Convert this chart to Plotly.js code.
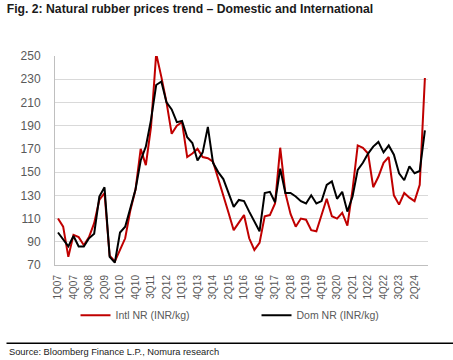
<!DOCTYPE html>
<html>
<head>
<meta charset="utf-8">
<script src="https://cdn.plot.ly/plotly-3.0.1.min.js"></script>
<style>html,body{margin:0;padding:0;background:#fff;}#chart{width:453px;height:360px;}</style>
</head>
<body>
<div id="chart"></div>
<script>
// Quarterly categories 1Q07 .. 4Q24
const quarters = [];
for (let y = 7; y <= 24; y++) {
  for (let q = 1; q <= 4; q++) {
    quarters.push(q + 'Q' + (y < 10 ? '0' + y : '' + y));
  }
}
// Tick labels shown every third quarter
const tickLabels = ['1Q07','4Q07','3Q08','2Q09','1Q10','4Q10','3Q11','2Q12','1Q13','4Q13','3Q14','2Q15','1Q16','4Q16','3Q17','2Q18','1Q19','4Q19','3Q20','2Q21','1Q22','4Q22','3Q23','2Q24'];

const intlNR = [110,103,77,96,94,87,94,106,126,132,78,73,83,93,117,
  135,170,156,189,252,232,210,183,190,193,163,166,170,163,162,159,145,129,115,100,107,113,93,83,89,112,113,123,171,
  132,114,103,110,109,100,99,113,127,112,110,115,104,
  135,173,171,166,137,146,158,163,130,122,132,128,125,139,231];

const domNR = [98,92,86,95,86,86,93,97,129,137,77,72,98,103,118,
  135,160,172,195,225,228,210,204,193,194,180,175,160,167,189,158,150,144,132,120,126,125,116,107,99,132,133,124,153,
  132,132,129,125,123,130,123,125,139,142,127,133,116,
  129,152,158,166,172,176,167,173,165,149,143,155,149,151,186];

const traces = [
  {x: quarters, y: intlNR, type: 'scatter', mode: 'lines', name: 'Intl NR (INR/kg)',
   line: {color: '#c00000', width: 2}},
  {x: quarters, y: domNR, type: 'scatter', mode: 'lines', name: 'Dom NR (INR/kg)',
   line: {color: '#000000', width: 2}}
];

const layout = {
  width: 453, height: 360,
  margin: {l: 55, r: 25, t: 56, b: 94.5},
  paper_bgcolor: '#fff', plot_bgcolor: '#fff',
  font: {family: 'Liberation Sans, Arial, sans-serif', color: '#595959'},
  title: {text: '<b>Fig. 2: Natural rubber prices trend – Domestic and International</b>',
          xref: 'container', yref: 'container', x: 0.015, xanchor: 'left', y: 0.975, yanchor: 'middle',
          font: {family: 'Liberation Sans, Arial, sans-serif', size: 12.2, color: '#1a1a1a'}},
  showlegend: true,
  legend: {orientation: 'h', x: 0.055, xanchor: 'left', y: -0.24, yanchor: 'middle',
           font: {size: 10.5, color: '#595959'}, itemwidth: 30, entrywidth: 136, entrywidthmode: 'pixels',
           bgcolor: 'rgba(0,0,0,0)'},
  xaxis: {type: 'category', categoryorder: 'array', categoryarray: quarters,
          range: [-0.58, 71.6], tickmode: 'array', tickvals: tickLabels, ticktext: tickLabels,
          tickangle: -90, tickfont: {size: 10, color: '#595959'}, showgrid: false,
          showline: true, linecolor: '#bfbfbf', linewidth: 1, ticks: '', zeroline: false, fixedrange: true,
          ticklabelstandoff: 5},
  yaxis: {range: [70, 250], tickvals: [70,90,110,130,150,170,190,210,230,250],
          tickfont: {size: 12, color: '#595959'}, showgrid: true, gridcolor: '#d9d9d9', gridwidth: 1,
          showline: true, linecolor: '#bfbfbf', linewidth: 1, ticks: '', zeroline: false,
          ticklabelstandoff: 11, fixedrange: true},
  shapes: [
    {type: 'line', xref: 'paper', yref: 'paper', x0: -0.13, x1: 1.07, y0: -0.374, y1: -0.374,
     line: {color: '#000', width: 1.5}}
  ],
  annotations: [
    {text: 'Source: Bloomberg Finance L.P., Nomura research', xref: 'paper', yref: 'paper',
     x: -0.129, xanchor: 'left', y: -0.415, yanchor: 'middle', showarrow: false,
     font: {size: 9.3, color: '#1a1a1a', family: 'Liberation Sans, Arial, sans-serif'}}
  ]
};

Plotly.newPlot('chart', traces, layout, {displayModeBar: false, staticPlot: true});
</script>
</body>
</html>
